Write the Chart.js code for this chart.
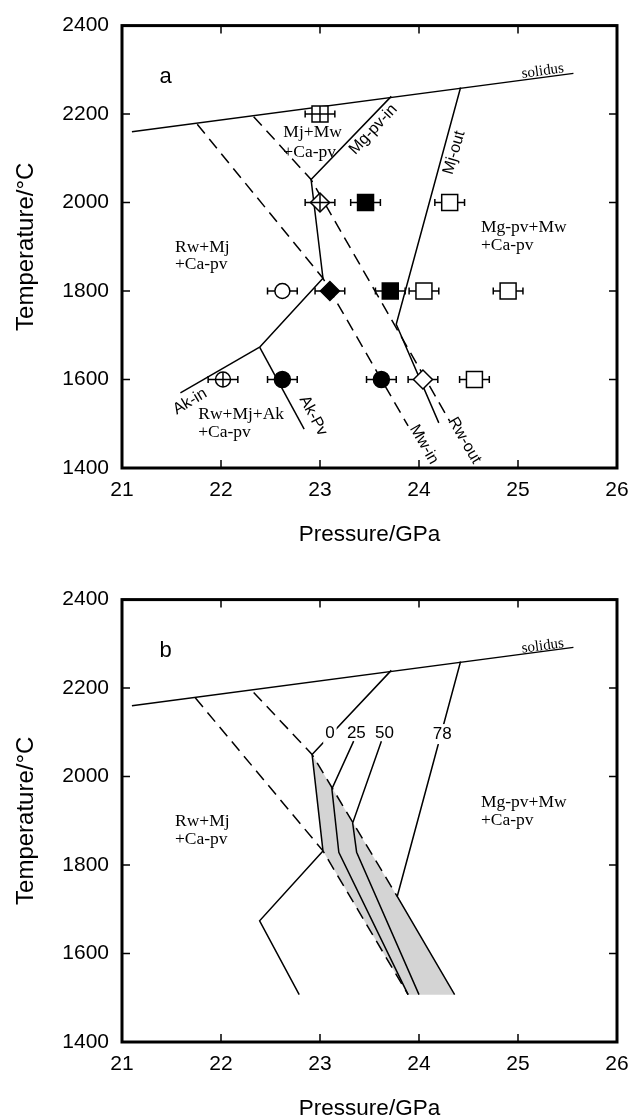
<!DOCTYPE html>
<html>
<head>
<meta charset="utf-8">
<script src="https://cdn.jsdelivr.net/npm/chart.js@4.4.1/dist/chart.umd.min.js"></script>
<style>
  html, body { margin: 0; padding: 0; background: #fff; overflow: hidden; }
  #wrap { position: relative; width: 641px; height: 1120px; overflow: hidden; }
  .panel { position: absolute; left: 0; width: 641px; height: 560px; }
  #panelA { top: 0; }
  #panelB { top: 574px; }
</style>
</head>
<body>
<div id="wrap">
  <div class="panel" id="panelA"><canvas id="chartA" width="641" height="560"></canvas></div>
  <div class="panel" id="panelB"><canvas id="chartB" width="641" height="560"></canvas></div>
</div>
<script>
// Axis ticks
const pressureTicks = [21, 22, 23, 24, 25, 26];
const temperatureTicks = [1400, 1600, 1800, 2000, 2200, 2400];

// Phase boundaries, panel a  [pressure (GPa), temperature (°C)]
const solidus = [[21.10, 2160], [25.56, 2292]];
const mwInA = [[21.76, 2177], [23.03, 1829], [23.89, 1495]];
const rwOutA = [[22.33, 2194], [22.91, 2052], [24.31, 1506]];
const mgPvInA = [[23.72, 2240], [22.91, 2052], [23.03, 1829], [22.39, 1673]];
const akInA = [[22.39, 1673], [21.59, 1570]];
const akPvA = [[22.39, 1673], [22.84, 1488]];
const mjOutA = [[24.42, 2260], [23.77, 1725], [24.20, 1502]];

// Run products, panel a
const openSquares = [[24.31, 2000], [24.05, 1800], [24.90, 1800], [24.56, 1600]];
const filledSquares = [[23.46, 2000], [23.71, 1800]];
const crossedSquares = [[23.00, 2200]];
const crossedDiamonds = [[23.00, 2000]];
const filledDiamonds = [[23.10, 1800]];
const openDiamonds = [[24.04, 1600]];
const openCircles = [[22.62, 1800]];
const crossedCircles = [[22.02, 1600]];
const filledCircles = [[22.62, 1600], [23.62, 1600]];
const pressureError = 0.15;

// Phase boundaries, panel b
const mwInB = [[21.74, 2178], [23.03, 1832], [23.89, 1507]];
const rwOutB = [[22.33, 2190], [22.92, 2050], [23.78, 1729]];
const line0 = [[23.72, 2240], [22.92, 2050], [23.03, 1832]];
const line25 = [[23.34, 2080], [23.12, 1972], [23.19, 1829], [23.89, 1507]];
const line50 = [[23.62, 2080], [23.33, 1895], [23.37, 1829], [24.00, 1507]];
const line78 = [[24.42, 2260], [23.78, 1729], [24.36, 1507]];
const akB = [[23.03, 1832], [22.39, 1674], [22.79, 1507]];
const coexistenceField = [[22.92, 2050], [23.78, 1729], [24.36, 1507], [23.89, 1507], [23.03, 1832], [22.92, 2050]];

const SANS = '"Liberation Sans", Arial, Helvetica, sans-serif';
const SERIF = '"Liberation Serif", "Times New Roman", Times, serif';
const BLACK = '#000';

const toXY = pts => pts.map(([x, y]) => ({ x, y }));

function path(points, dashed) {
  return {
    data: toXY(points), showLine: true, borderColor: BLACK, borderWidth: 1.5,
    borderDash: dashed ? [12, 7] : [], pointRadius: 0, pointHoverRadius: 0,
    fill: false, order: 5
  };
}
function markers(points, style, radius, fillColor) {
  return {
    data: toXY(points), showLine: false, pointStyle: style,
    pointRadius: radius, pointHoverRadius: radius,
    pointBackgroundColor: fillColor, pointBorderColor: BLACK, pointBorderWidth: 1.5,
    order: 2, errorBar: pressureError
  };
}
function crosses(points, radius) {
  return {
    data: toXY(points), showLine: false, pointStyle: 'cross',
    pointRadius: radius, pointHoverRadius: radius,
    pointBorderColor: BLACK, pointBorderWidth: 1.5, order: 1
  };
}

// Horizontal pressure error bars under the symbols
const errorBarPlugin = {
  id: 'errorBars',
  beforeDatasetsDraw(chart) {
    const { ctx, scales: { x, y } } = chart;
    ctx.save();
    ctx.strokeStyle = BLACK;
    ctx.lineWidth = 1.5;
    ctx.beginPath();
    chart.data.datasets.forEach(ds => {
      if (!ds.errorBar) return;
      ds.data.forEach(p => {
        const x0 = x.getPixelForValue(p.x - ds.errorBar);
        const x1 = x.getPixelForValue(p.x + ds.errorBar);
        const py = y.getPixelForValue(p.y);
        ctx.moveTo(x0, py); ctx.lineTo(x1, py);
        ctx.moveTo(x0, py - 3.5); ctx.lineTo(x0, py + 3.5);
        ctx.moveTo(x1, py - 3.5); ctx.lineTo(x1, py + 3.5);
      });
    });
    ctx.stroke();
    ctx.restore();
  }
};

// Heavy frame with inward tick marks on all four sides
const framePlugin = {
  id: 'frame',
  afterDraw(chart) {
    const { ctx, chartArea: a, scales: { x, y } } = chart;
    const t = 8;
    ctx.save();
    ctx.strokeStyle = BLACK;
    ctx.lineWidth = 1.5;
    ctx.beginPath();
    pressureTicks.forEach(v => {
      const px = x.getPixelForValue(v);
      ctx.moveTo(px, a.bottom); ctx.lineTo(px, a.bottom - t);
      ctx.moveTo(px, a.top); ctx.lineTo(px, a.top + t);
    });
    temperatureTicks.forEach(v => {
      const py = y.getPixelForValue(v);
      ctx.moveTo(a.left, py); ctx.lineTo(a.left + t, py);
      ctx.moveTo(a.right, py); ctx.lineTo(a.right - t, py);
    });
    ctx.stroke();
    ctx.lineWidth = 3;
    ctx.strokeRect(a.left, a.top, a.right - a.left, a.bottom - a.top);
    ctx.restore();
  }
};

// Field names and boundary names placed in pressure–temperature space
function labelPlugin(items) {
  return {
    id: 'phaseLabels',
    afterDatasetsDraw(chart) {
      const { ctx, scales: { x, y } } = chart;
      items.forEach(it => {
        ctx.save();
        ctx.translate(x.getPixelForValue(it.x), y.getPixelForValue(it.y));
        ctx.rotate((it.rotate || 0) * Math.PI / 180);
        ctx.font = it.font;
        ctx.textAlign = it.align || 'center';
        ctx.textBaseline = it.baseline || 'middle';
        if (it.box) {
          const w = ctx.measureText(it.text).width;
          ctx.fillStyle = '#fff';
          ctx.fillRect(-w / 2 - 2, -it.box / 2, w + 4, it.box);
        }
        ctx.fillStyle = BLACK;
        ctx.fillText(it.text, 0, 0);
        ctx.restore();
      });
    }
  };
}

const fieldFont = `17.5px ${SERIF}`;
const boundaryFont = `16px ${SANS}`;
const panelFont = `22px ${SANS}`;
const solidusFont = `15px ${SERIF}`;
const contourFont = `17px ${SANS}`;

const labelsA = [
  { text: 'a', x: 21.38, y: 2270, font: panelFont, align: 'left', baseline: 'alphabetic' },
  { text: 'solidus', x: 25.25, y: 2297, font: solidusFont, rotate: -7.7 },
  { text: 'Mj+Mw', x: 22.63, y: 2148, font: fieldFont, align: 'left', baseline: 'alphabetic' },
  { text: '+Ca-pv', x: 22.63, y: 2103, font: fieldFont, align: 'left', baseline: 'alphabetic' },
  { text: 'Rw+Mj', x: 21.535, y: 1889, font: fieldFont, align: 'left', baseline: 'alphabetic' },
  { text: '+Ca-pv', x: 21.535, y: 1849, font: fieldFont, align: 'left', baseline: 'alphabetic' },
  { text: 'Mg-pv+Mw', x: 24.626, y: 1933, font: fieldFont, align: 'left', baseline: 'alphabetic' },
  { text: '+Ca-pv', x: 24.626, y: 1893, font: fieldFont, align: 'left', baseline: 'alphabetic' },
  { text: 'Rw+Mj+Ak', x: 21.77, y: 1510, font: fieldFont, align: 'left', baseline: 'alphabetic' },
  { text: '+Ca-pv', x: 21.77, y: 1470, font: fieldFont, align: 'left', baseline: 'alphabetic' },
  { text: 'Mg-pv-in', x: 23.538, y: 2165, font: boundaryFont, rotate: -47 },
  { text: 'Mj-out', x: 24.356, y: 2113, font: boundaryFont, rotate: -74 },
  { text: 'Ak-in', x: 21.687, y: 1550, font: boundaryFont, rotate: -31 },
  { text: 'Ak-Pv', x: 22.93, y: 1518, font: boundaryFont, rotate: 62 },
  { text: 'Mw-in', x: 24.05, y: 1453, font: boundaryFont, rotate: 60 },
  { text: 'Rw-out', x: 24.46, y: 1462, font: boundaryFont, rotate: 60 }
];

const labelsB = [
  { text: 'b', x: 21.38, y: 2270, font: panelFont, align: 'left', baseline: 'alphabetic' },
  { text: 'solidus', x: 25.25, y: 2295, font: solidusFont, rotate: -7.7 },
  { text: 'Rw+Mj', x: 21.535, y: 1888, font: fieldFont, align: 'left', baseline: 'alphabetic' },
  { text: '+Ca-pv', x: 21.535, y: 1847, font: fieldFont, align: 'left', baseline: 'alphabetic' },
  { text: 'Mg-pv+Mw', x: 24.626, y: 1932, font: fieldFont, align: 'left', baseline: 'alphabetic' },
  { text: '+Ca-pv', x: 24.626, y: 1891, font: fieldFont, align: 'left', baseline: 'alphabetic' },
  { text: '0', x: 23.10, y: 2097, font: contourFont, box: 20 },
  { text: '25', x: 23.367, y: 2097, font: contourFont },
  { text: '50', x: 23.652, y: 2097, font: contourFont },
  { text: '78', x: 24.234, y: 2096, font: contourFont, box: 20 }
];

function scales() {
  return {
    x: {
      type: 'linear', min: 21, max: 26,
      afterBuildTicks: s => { s.ticks = pressureTicks.map(v => ({ value: v })); },
      afterFit: s => { s.height = 92; },
      grid: { display: false, drawTicks: false },
      border: { display: false },
      ticks: { color: BLACK, font: { family: SANS, size: 21 }, padding: 10, maxRotation: 0, callback: v => String(v) },
      title: { display: true, text: 'Pressure/GPa', color: BLACK, font: { family: SANS, size: 22.5 }, padding: { top: 0, bottom: 12 } }
    },
    y: {
      type: 'linear', min: 1400, max: 2400,
      afterBuildTicks: s => { s.ticks = temperatureTicks.map(v => ({ value: v })); },
      afterFit: s => { s.width = 122; },
      grid: { display: false, drawTicks: false },
      border: { display: false },
      ticks: { color: BLACK, font: { family: SANS, size: 21 }, padding: 13, callback: v => String(v) },
      title: { display: true, text: 'Temperature/°C', color: BLACK, font: { family: SANS, size: 24 }, padding: { top: 12, bottom: 0 } }
    }
  };
}

function options() {
  return {
    responsive: false,
    devicePixelRatio: 1,
    animation: false,
    events: [],
    layout: { padding: { left: 0, right: 24, top: 18, bottom: 0 } },
    plugins: { legend: { display: false }, tooltip: { enabled: false } },
    scales: scales()
  };
}

new Chart(document.getElementById('chartA'), {
  type: 'scatter',
  data: {
    datasets: [
      path(solidus, false),
      path(mwInA, true),
      path(rwOutA, true),
      path(mgPvInA, false),
      path(akInA, false),
      path(akPvA, false),
      path(mjOutA, false),
      markers(openSquares, 'rect', 11.3, '#fff'),
      markers(filledSquares, 'rect', 11.3, BLACK),
      markers(crossedSquares, 'rect', 11.3, '#fff'),
      crosses(crossedSquares, 8),
      markers(crossedDiamonds, 'rectRot', 9.5, '#fff'),
      crosses(crossedDiamonds, 9.5),
      markers(filledDiamonds, 'rectRot', 9.5, BLACK),
      markers(openDiamonds, 'rectRot', 9.5, '#fff'),
      markers(openCircles, 'circle', 7.5, '#fff'),
      markers(crossedCircles, 'circle', 7.5, '#fff'),
      crosses(crossedCircles, 7.5),
      markers(filledCircles, 'circle', 8, BLACK)
    ]
  },
  options: options(),
  plugins: [errorBarPlugin, labelPlugin(labelsA), framePlugin]
});

new Chart(document.getElementById('chartB'), {
  type: 'scatter',
  data: {
    datasets: [
      {
        data: toXY(coexistenceField), showLine: true, fill: 'shape',
        backgroundColor: '#d4d4d4', borderColor: 'rgba(0,0,0,0)', borderWidth: 0,
        pointRadius: 0, pointHoverRadius: 0, order: 10
      },
      path(solidus, false),
      path(mwInB, true),
      path(rwOutB, true),
      path(line0, false),
      path(line25, false),
      path(line50, false),
      path(line78, false),
      path(akB, false)
    ]
  },
  options: options(),
  plugins: [labelPlugin(labelsB), framePlugin]
});
</script>
</body>
</html>
